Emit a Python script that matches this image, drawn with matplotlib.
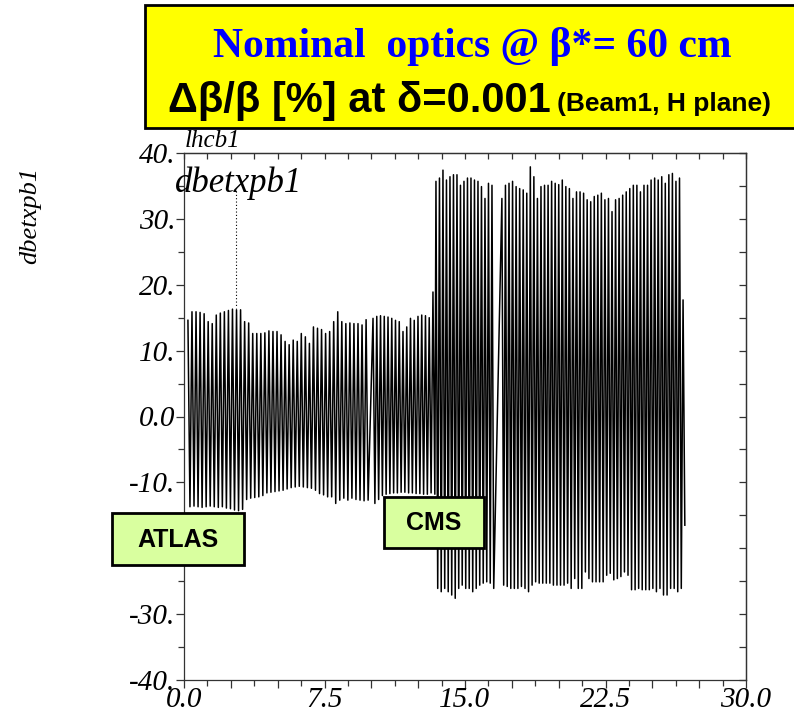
import matplotlib
matplotlib.use("Agg")
from matplotlib import pyplot as plt
from matplotlib.patches import Rectangle
import numpy as np

# s [km] ranges covered by each run of oscillations
seg_start = [0.21, 10.09, 13.45, 16.97]
seg_end = [9.72, 13.29, 16.44, 26.64]

# peak values (dbetx, %), one top/bottom pair per oscillation
tops_a = [14.6, 15.9, 15.9, 15.8, 15.6, 14.4, 14.1, 15.4, 15.7, 15.9, 16.1, 16.3,
          16.2, 16.2, 14.4, 14.2, 12.6, 12.6, 12.6, 12.7, 13.0, 12.9, 12.9, 12.4,
          11.4, 10.9, 11.6, 11.4, 12.6, 12.1, 11.1, 13.6, 13.4, 13.2, 12.6, 12.9,
          14.4, 15.9, 14.4, 14.1, 14.2, 14.1, 14.1, 13.9, 14.7]
bots_a = [-13.7, -13.6, -13.7, -13.8, -13.7, -13.6, -13.7, -13.8, -13.7, -13.9,
          -14.0, -14.2, -14.3, -14.1, -12.6, -12.4, -12.3, -12.2, -12.0, -11.6,
          -11.5, -11.4, -11.3, -11.2, -11.0, -10.8, -10.7, -10.6, -10.7, -10.8,
          -10.9, -11.2, -11.7, -11.9, -12.2, -12.2, -13.2, -12.7, -12.4, -12.7,
          -12.4, -12.6, -12.7, -12.8, -12.7]
tops_b = [14.9, 15.2, 15.3, 15.2, 15.1, 14.9, 14.6, 14.4, 12.9, 13.6, 14.9, 14.6,
          15.2, 15.4, 15.3, 15.0, 18.9]
bots_b = [-13.2, -12.6, -12.0, -11.8, -11.7, -11.6, -11.6, -11.5, -11.5, -11.6,
          -11.6, -11.7, -11.7, -11.8, -11.8, -11.6, -11.8]
tops_c = [35.7, 36.2, 37.4, 35.9, 36.4, 36.7, 36.7, 35.1, 35.7, 36.2, 36.2, 35.9,
          35.7, 34.9, 33.1, 35.4, 35.1]
bots_c = [-26.1, -26.6, -26.1, -26.6, -27.1, -27.6, -26.1, -25.6, -26.1, -26.1,
          -26.6, -26.1, -25.6, -25.3, -25.1, -25.3, -26.1]
tops_d = [33.1, 35.1, 35.4, 35.7, 34.9, 34.6, 34.4, 33.9, 37.9, 36.4, 33.1, 34.9,
          35.1, 35.1, 35.7, 35.4, 35.2, 35.9, 34.9, 34.6, 33.1, 34.1, 34.1, 33.9,
          32.9, 32.6, 33.4, 33.6, 33.9, 32.9, 33.1, 31.1, 32.9, 33.1, 33.6, 34.1,
          34.6, 35.1, 35.1, 34.1, 35.1, 35.1, 35.9, 36.2, 35.9, 36.4, 35.4, 36.7,
          36.9, 35.7, 36.2, 17.7]
bots_d = [-25.6, -25.8, -26.1, -26.1, -26.1, -25.8, -26.1, -26.6, -25.6, -25.1,
          -25.3, -25.3, -25.3, -25.3, -25.6, -25.6, -25.6, -25.6, -25.3, -26.1,
          -24.6, -26.1, -26.1, -23.6, -24.6, -25.1, -25.1, -25.1, -25.1, -24.1,
          -23.8, -24.8, -24.6, -24.3, -23.6, -24.1, -26.3, -26.3, -26.1, -26.3,
          -26.3, -26.3, -26.1, -26.6, -26.1, -27.1, -27.1, -26.1, -26.1, -26.6,
          -26.1, -16.5]

seg_tops = [tops_a, tops_b, tops_c, tops_d]
seg_bots = [bots_a, bots_b, bots_c, bots_d]

x_labels = {0.0: "0.0", 7.5: "7.5", 15.0: "15.0", 22.5: "22.5", 30.0: "30.0"}
y_ticks = [40, 30, 20, 10, 0, -10, -20, -30, -40]
y_labels = ["40.", "30.", "20.", "10.", "0.0", "-10.", "-20.", "-30.", "-40."]

ip_marker_s = 2.78  # dotted marker line

# build the zig-zag trace
xs, ys = [], []
for s0, s1, tp, bt in zip(seg_start, seg_end, seg_tops, seg_bots):
    xt = np.linspace(s0, s1, len(tp))
    half = (s1 - s0) / (len(tp) - 1) / 2
    for i in range(len(tp)):
        xs += [xt[i], xt[i] + half]
        ys += [tp[i], bt[i]]

serif = ["Liberation Serif", "DejaVu Serif"]
sans = ["Liberation Sans", "DejaVu Sans"]

fig = plt.figure(figsize=(7.94, 7.15), dpi=100)
ax = fig.add_axes([184 / 794, 1 - 680 / 715, 562 / 794, 527 / 715])
ax.plot(xs, ys, color="black", lw=1.1)
ax.plot([ip_marker_s, ip_marker_s], [34.3, 16.4], color="black", lw=0.8, ls=(0, (1, 2)))

ax.set_xlim(0, 30)
ax.set_ylim(-40, 40)

# bottom / left: outward ticks
xmaj = np.arange(0, 30.01, 2.5)
ax.set_xticks(xmaj)
ax.set_xticklabels([x_labels.get(round(v, 2), "") for v in xmaj])
ax.set_xticks(np.arange(1.25, 30, 2.5), minor=True)
ax.set_yticks(y_ticks)
ax.set_yticklabels(y_labels)
ax.set_yticks(np.arange(-35, 40, 10), minor=True)
ax.tick_params(which="both", direction="out", width=0.9, color="#333333")
ax.tick_params(which="major", length=6, labelsize=21)
ax.tick_params(which="minor", length=4)
ax.tick_params(axis="x", which="major", pad=-1)
ax.tick_params(axis="y", which="major", pad=0)
for lab in ax.get_xticklabels() + ax.get_yticklabels():
    lab.set_family(serif)
    lab.set_style("italic")

# top / right: inward ticks, no labels
top = ax.secondary_xaxis("top")
top.set_xticks(np.arange(0, 30.01, 1.25))
top.tick_params(direction="in", length=4, width=0.9, labeltop=False, color="#333333")
right = ax.secondary_yaxis("right")
right.set_yticks(np.arange(-40, 40.01, 5))
right.tick_params(direction="in", length=5, width=0.9, labelright=False, color="#333333")
for a in (ax, top, right):
    for sp in a.spines.values():
        sp.set_linewidth(0.9)
        sp.set_color("#333333")

fig.text(30 / 794, 1 - 215 / 715, "dbetxpb1", rotation=90, ha="center", va="center",
         family=serif, style="italic", fontsize=19)
fig.text(175 / 794, 1 - 183 / 715, "dbetxpb1", ha="left", va="center",
         family=serif, style="italic", fontsize=25)
fig.text(185 / 794, 1 - 147 / 715, "lhcb1", ha="left", va="baseline",
         family=serif, style="italic", fontsize=18, zorder=1)

# title box
fig.patches.append(Rectangle((145 / 794, 1 - 128 / 715), 0.9, 123 / 715,
                             transform=fig.transFigure, facecolor="#ffff00",
                             edgecolor="black", lw=2, zorder=5))
fig.text(472 / 794, 1 - 47 / 715, "Nominal  optics @ β*= 60 cm", ha="center", va="center",
         family=serif, weight="bold", color="#0000ff", fontsize=30, zorder=6)
fig.text(168 / 794, 1 - 101 / 715, "Δβ/β [%] at δ=0.001", ha="left", va="center",
         family=sans, weight="bold", color="black", fontsize=30, zorder=6)
fig.text(557 / 794, 1 - 104 / 715, "(Beam1, H plane)", ha="left", va="center",
         family=sans, weight="bold", color="black", fontsize=19, zorder=6)

# experiment labels
for (x0, y0, w, h, name) in [(112, 513, 132, 52, "ATLAS"), (384, 497, 100, 51, "CMS")]:
    fig.patches.append(Rectangle((x0 / 794, 1 - (y0 + h) / 715), w / 794, h / 715,
                                 transform=fig.transFigure, facecolor="#d9ff9f",
                                 edgecolor="black", lw=2, zorder=5))
    fig.text((x0 + w / 2) / 794, 1 - (y0 + h / 2 + 1) / 715, name, ha="center",
             va="center", family=sans, weight="bold", fontsize=18, zorder=6)

fig.savefig("out.png", dpi=100)
